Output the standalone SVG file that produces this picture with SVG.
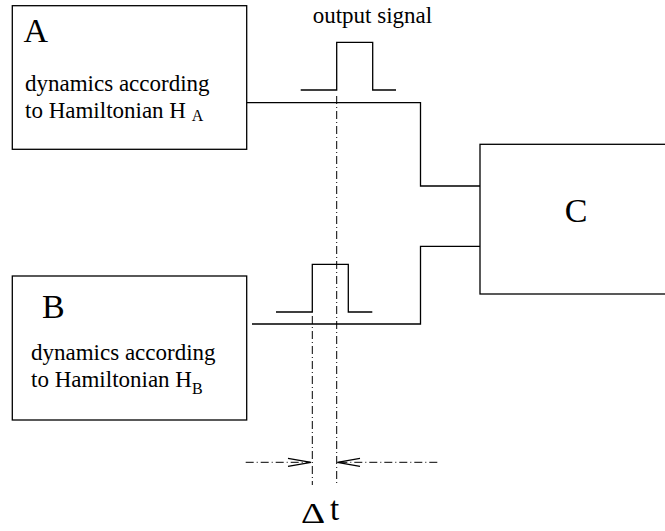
<svg xmlns="http://www.w3.org/2000/svg" width="665" height="531" viewBox="0 0 665 531">
<defs>
<style>
.box{fill:#fff;stroke:#000;stroke-width:1.3}
.ln{fill:none;stroke:#000;stroke-width:1.3}
.dd{fill:none;stroke:#000;stroke-width:1;stroke-dasharray:8 3 1 3}
.t{font-family:"Liberation Serif","Times New Roman",serif;fill:#000}
.big{font-size:34px}
.med{font-size:23px}
.sub{font-size:16px}
</style>
</defs>
<rect width="665" height="531" fill="#fff"/>
<g id="connectors">
<polyline class="ln" points="246,102.7 420.5,102.7 420.5,186 480,186"/>
<polyline class="ln" points="252,324 420.5,324 420.5,246.3 480,246.3"/>
<polyline class="ln" points="300.7,90 336.7,90 336.7,42.3 372.7,42.3 372.7,90 396,90"/>
<polyline class="ln" points="276,312 312.3,312 312.3,264.3 348.3,264.3 348.3,312 372.3,312"/>
<line class="dd" x1="336.7" y1="96" x2="336.7" y2="485"/>
<line class="dd" x1="312.3" y1="316" x2="312.3" y2="485"/>
<line class="dd" x1="245.7" y1="462.3" x2="310" y2="462.3"/>
<polyline class="ln" stroke-width="1" points="288,458.3 311,462.3 288,466.3"/>
<line class="dd" x1="437.3" y1="462.3" x2="338" y2="462.3"/>
<polyline class="ln" stroke-width="1" points="360,458.3 337.3,462.3 360,466.3"/>
</g>
<g id="nodeA">
<rect class="box" x="12.3" y="5.7" width="234.4" height="143.6"/>
<text class="t big" x="23.5" y="41.7">A</text>
<text class="t med" x="25" y="91">dynamics according</text>
<text class="t med" x="25" y="118">to Hamiltonian H <tspan class="sub" dy="3">A</tspan></text>
</g>
<g id="nodeB">
<rect class="box" x="12.3" y="276" width="234.4" height="144"/>
<text class="t big" x="42" y="317.7">B</text>
<text class="t med" x="31" y="360">dynamics according</text>
<text class="t med" x="31" y="386.5">to Hamiltonian H<tspan class="sub" dy="7">B</tspan></text>
</g>
<g id="nodeC">
<rect class="box" x="480" y="144.3" width="200" height="149.7"/>
<text class="t big" x="576" y="221.7" text-anchor="middle">C</text>
</g>
<g id="labels">
<text class="t med" x="312.7" y="23">output signal</text>
<text class="t" transform="translate(301,523) scale(1.25,1)" x="0" y="0" font-size="30px">Δ</text>
<text class="t" x="330" y="520" font-size="33px">t</text>
</g>
</svg>
